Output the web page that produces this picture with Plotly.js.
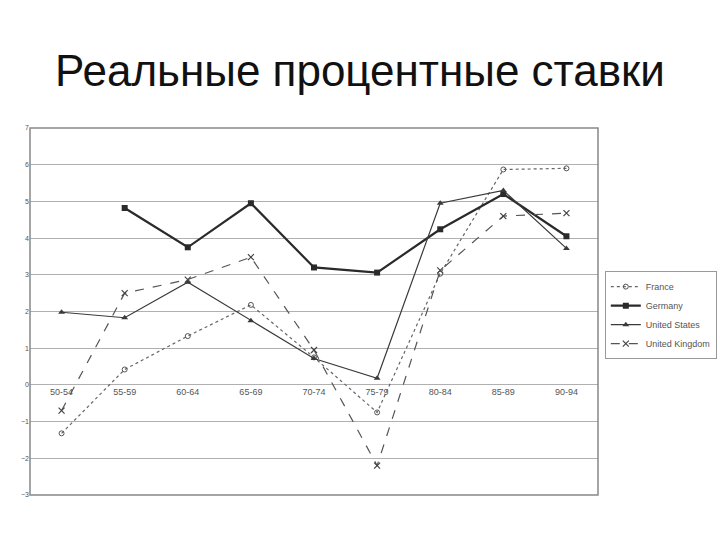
<!DOCTYPE html>
<html>
<head>
<meta charset="utf-8">
<script src="https://cdn.plot.ly/plotly-3.0.1.min.js"></script>
<style>html,body{margin:0;padding:0;background:#fff;}#chart{width:720px;height:540px;}</style>
</head>
<body>
<div id="chart"></div>
<script>
const periods = ["50-54","55-59","60-64","65-69","70-74","75-79","80-84","85-89","90-94"];
const france = [-1.32, 0.42, 1.33, 2.18, 0.75, -0.75, 3.03, 5.87, 5.9];
const germany = [null, 4.82, 3.75, 4.95, 3.2, 3.06, 4.24, 5.2, 4.05];
const unitedStates = [1.98, 1.83, 2.8, 1.75, 0.72, 0.18, 4.95, 5.3, 3.72];
const unitedKingdom = [-0.7, 2.5, 2.87, 3.48, 0.95, -2.2, 3.12, 4.6, 4.68];
const yTicks = [-3,-2,-1,0,1,2,3,4,5,6,7];

const traces = [
  {name:"France", x:periods, y:france, mode:"lines+markers",
   line:{color:"#666", width:1.2, dash:"dot"},
   marker:{symbol:"circle-open", size:5, color:"#555", line:{width:1}}},
  {name:"Germany", x:periods, y:germany, mode:"lines+markers",
   line:{color:"#2a2a2a", width:2.2},
   marker:{symbol:"square", size:6, color:"#2a2a2a"}},
  {name:"United States", x:periods, y:unitedStates, mode:"lines+markers",
   line:{color:"#3a3a3a", width:1.2},
   marker:{symbol:"triangle-up", size:6, color:"#3a3a3a"}},
  {name:"United Kingdom", x:periods, y:unitedKingdom, mode:"lines+markers",
   line:{color:"#555", width:1.2, dash:"dash"},
   marker:{symbol:"x-thin-open", size:6, color:"#444", line:{width:1.2, color:"#444"}}}
];

const layout = {
  width:720, height:540,
  paper_bgcolor:"#fff", plot_bgcolor:"#fff",
  margin:{l:30, r:122, t:128, b:45, autoexpand:false},
  title:{text:"Реальные процентные ставки", x:0.5, xanchor:"center", y:0.87, yanchor:"middle",
         font:{family:"Liberation Sans, Arial, sans-serif", size:44, color:"#111"}},
  xaxis:{type:"category", anchor:"free", position:0.3, showgrid:false, zeroline:false,
         showline:false, ticks:"", tickfont:{family:"Liberation Sans, Arial", size:9, color:"#555"},
         range:[-0.5, 8.5]},
  yaxis:{range:[-3,7], tickvals:yTicks, showgrid:true, gridcolor:"#b0b0b0", gridwidth:1,
         zeroline:false, showline:false, ticks:"",
         tickfont:{family:"Liberation Sans, Arial", size:7, color:"#555"}},
  showlegend:true,
  legend:{x:1.012, y:0.61, xanchor:"left", yanchor:"top", bgcolor:"#fff",
          bordercolor:"#999", borderwidth:1, tracegroupgap:0, itemwidth:30,
          font:{family:"Liberation Sans, Arial", size:9, color:"#555"}},
  shapes:[{type:"rect", xref:"paper", yref:"paper", x0:0, x1:1, y0:0, y1:1,
           line:{color:"#888", width:1.5}}]
};

Plotly.newPlot("chart", traces, layout, {displayModeBar:false, staticPlot:true});
</script>
</body>
</html>
